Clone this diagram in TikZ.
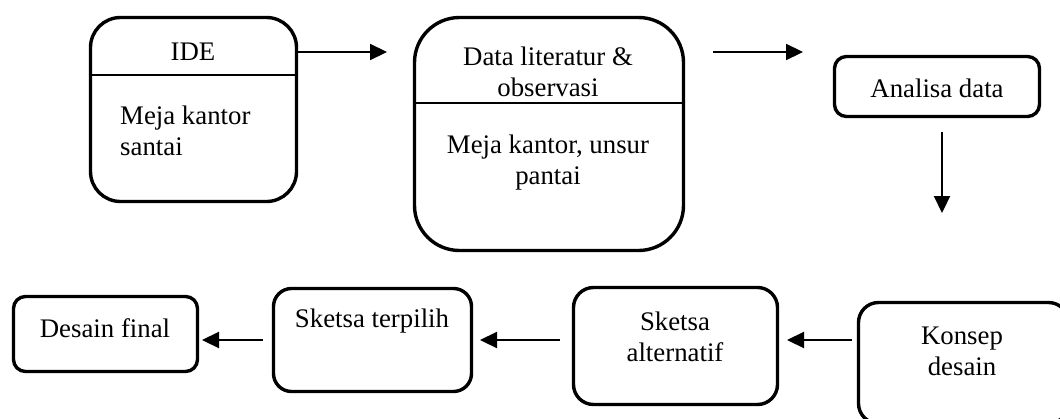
\documentclass[tikz,border=0pt]{standalone}
\usepackage{fontspec}
\setmainfont{Liberation Serif}
\usetikzlibrary{arrows.meta}
\tikzset{
  box/.style={draw=black, line width=3.4pt, fill=none, inner sep=0pt},
  txt/.style={inner sep=0pt, align=center, font=\fontsize{26.8}{31}\selectfont},
  arr/.style={draw=black, line width=2.2pt, -{Triangle[length=17pt,width=16pt]}},
  divider/.style={draw=black, line width=1.8pt}
}
\begin{document}
\begin{tikzpicture}[x=1pt,y=-1pt]
\clip (0,0) rectangle (1060,418);
\fill[white] (0,0) rectangle (1060,418);
% boxes
\node[box, rounded corners=30pt, minimum width=206pt, minimum height=184pt] (ide) at (193.5,109.5) {};
\node[box, rounded corners=45pt, minimum width=269pt, minimum height=233pt] (data) at (549,134) {};
\node[box, rounded corners=12pt, minimum width=205pt, minimum height=60pt] (anal) at (937,86.5) {};
\node[box, rounded corners=12pt, minimum width=184pt, minimum height=75pt] (desf) at (105.5,334) {};
\node[box, rounded corners=18pt, minimum width=198pt, minimum height=103pt] (skt) at (372.5,340) {};
\node[box, rounded corners=20pt, minimum width=204pt, minimum height=117pt] (ska) at (675.5,346) {};
\node[box, rounded corners=20pt, minimum width=210pt, minimum height=121pt] (kon) at (963.5,363) {};
% dividers
\coordinate (d1) at (0,75);
\coordinate (d2) at (0,103);
\draw[divider] (ide.west |- d1) -- (ide.east |- d1);
\draw[divider] (data.west |- d2) -- (data.east |- d2);
% texts
\node[txt] (t1) at (193,52) {IDE};
\node[txt, anchor=west, align=left] (t2) at (120,131) {Meja kantor\\santai};
\node[txt] (t3) at (548,72) {Data literatur \&\\observasi};
\node[txt] (t4) at (548,163) {Meja kantor, unsur\\pantai};
\node[txt] (t5) at (937,88) {Analisa data};
\node[txt] (t6) at (105,328) {Desain final};
\node[txt] (t7) at (372,321) {Sketsa terpilih};
\node[txt] (t8) at (675,337) {Sketsa\\alternatif};
\node[txt] (t9) at (962,351) {Konsep\\desain};
% arrows
\coordinate (a1e) at (387,52);
\coordinate (a2s) at (713,52);
\coordinate (a2e) at (803,52);
\coordinate (a3s) at (942,132);
\coordinate (a3e) at (942,213);
\coordinate (a4s) at (852,340);
\coordinate (a4e) at (787,340);
\coordinate (a5s) at (560,340);
\coordinate (a5e) at (480,340);
\coordinate (a6s) at (263,340);
\coordinate (a6e) at (202,340);
\draw[arr] (ide.east |- a1e) -- (a1e);
\draw[arr] (a2s) -- (a2e);
\draw[arr] (a3s) -- (a3e);
\draw[arr] (a4s) -- (a4e);
\draw[arr] (a5s) -- (a5e);
\draw[arr] (a6s) -- (a6e);
\end{tikzpicture}
\end{document}
